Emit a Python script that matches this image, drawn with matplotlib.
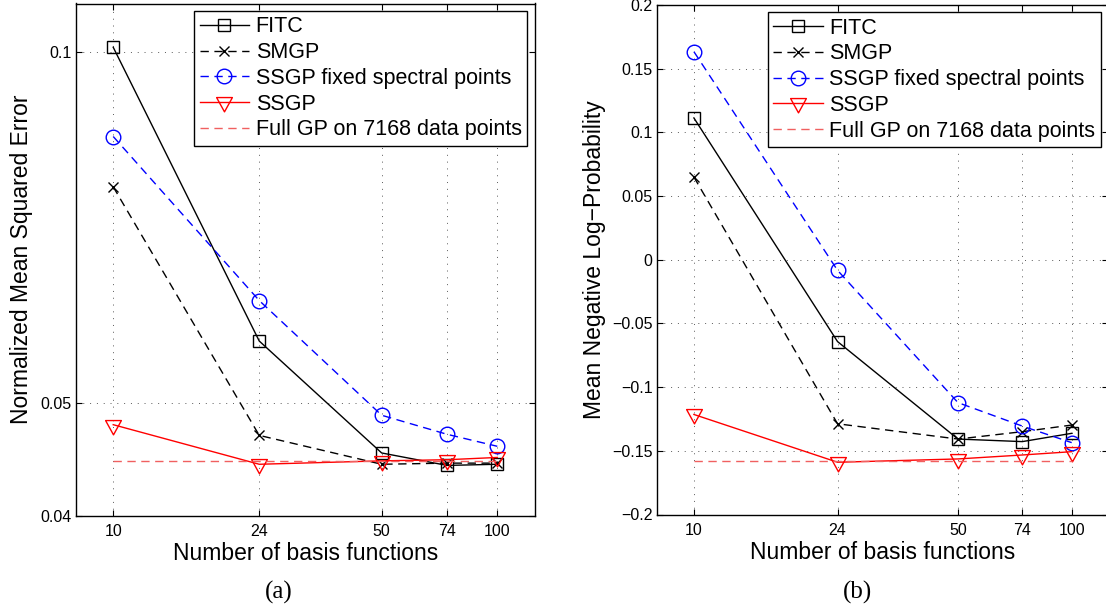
import numpy as np
import matplotlib.pyplot as plt
from matplotlib.path import Path
from matplotlib.ticker import FixedLocator, FixedFormatter, NullLocator

# numero de funcoes de base (eixo x dos dois paineis)
n_basis = [10, 24, 50, 74, 100]

# (a) erro quadratico medio normalizado
fitc_mse = [0.1009, 0.0565, 0.0453, 0.0442, 0.0443]
smgp_mse = [0.0766, 0.0469, 0.0443, 0.0444, 0.0444]
ssgp_fixed_mse = [0.0846, 0.0612, 0.0488, 0.0470, 0.0459]
ssgp_mse = [0.0479, 0.0443, 0.0446, 0.0447, 0.0449]
full_gp_mse = 0.0446

# (b) log-probabilidade negativa media
fitc_nlp = [0.1112, -0.0643, -0.1408, -0.1428, -0.1363]
smgp_nlp = [0.0648, -0.1288, -0.1408, -0.1350, -0.1298]
ssgp_fixed_nlp = [0.1632, -0.0084, -0.1122, -0.1306, -0.1436]
ssgp_nlp = [-0.1215, -0.1590, -0.1564, -0.1533, -0.1507]
full_gp_nlp = -0.158

labels = ['FITC', 'SMGP', 'SSGP fixed spectral points', 'SSGP',
          'Full GP on 7168 data points']
xticklabels = ['10', '24', '50', '74', '100']
yticks_a = [0.04, 0.05, 0.1]
yticklabels_a = ['0.04', '0.05', '0.1']
yticks_b = [-0.2, -0.15, -0.1, -0.05, 0, 0.05, 0.1, 0.15, 0.2]
yticklabels_b = ['\u22120.2', '\u22120.15', '\u22120.1', '\u22120.05', '0',
                 '0.05', '0.1', '0.15', '0.2']

plt.rcParams['font.family'] = ['Liberation Sans', 'DejaVu Sans']

# triangulo para baixo no estilo do MATLAB (centro no baricentro)
tri = Path([(-8, 5), (8, 5), (0, -9.5), (-8, 5)],
           [Path.MOVETO, Path.LINETO, Path.LINETO, Path.CLOSEPOLY])

W, H = 1106, 615
fig = plt.figure(figsize=(W / 100, H / 100), dpi=100)
ax1 = fig.add_axes([76 / W, (H - 516) / H, 458.5 / W, 512.5 / H])
ax2 = fig.add_axes([657.3 / W, (H - 514.5) / H, 451 / W, 509.7 / H])

dash = (0, (6, 4))


def draw(ax, fitc, smgp, fixed, ssgp, full):
    ax.plot(n_basis, fitc, color='k', lw=1, marker='s', ms=8.5, mfc='none',
            mew=1, label=labels[0])
    ax.plot(n_basis, smgp, color='k', lw=1, ls=dash, marker='x', ms=7,
            mew=1, label=labels[1])
    ax.plot(n_basis, fixed, color='b', lw=1, ls=dash, marker='o', ms=10.5,
            mfc='none', mew=1, label=labels[2])
    ax.plot(n_basis, ssgp, color='r', lw=1, marker=tri, ms=13.5, mfc='none',
            mew=1, label=labels[3])
    ax.plot([n_basis[0], n_basis[-1]], [full, full], color='#f06060', lw=1,
            ls=dash, label=labels[4])

    ax.set_xscale('log')
    ax.set_xlim(8, 125)
    ax.xaxis.set_major_locator(FixedLocator(n_basis))
    ax.xaxis.set_major_formatter(FixedFormatter(xticklabels))
    ax.xaxis.set_minor_locator(NullLocator())
    ax.tick_params(which='both', direction='in', top=True, right=True,
                   length=4, width=0.8, labelsize=11.5)
    ax.tick_params(axis='x', pad=6)
    ax.tick_params(axis='y', pad=3.5)
    ax.grid(True, color='0.35', lw=0.7, ls=(0, (1, 6)))
    for s in ax.spines.values():
        s.set_linewidth(1.0)
    ax.set_xlabel('Number of basis functions', fontsize=16.5, labelpad=2)
    leg = ax.legend(loc='upper right', fontsize=15.5, handlelength=2.3,
                    handletextpad=0.3, labelspacing=0.22, borderpad=0.25,
                    borderaxespad=0.35, fancybox=False, framealpha=1)
    leg.get_frame().set_edgecolor('k')
    leg.get_frame().set_linewidth(1.0)


draw(ax1, fitc_mse, smgp_mse, ssgp_fixed_mse, ssgp_mse, full_gp_mse)
ax1.set_yscale('log')
ax1.set_ylim(0.04, 0.11)
ax1.yaxis.set_major_locator(FixedLocator(yticks_a))
ax1.yaxis.set_major_formatter(FixedFormatter(yticklabels_a))
ax1.yaxis.set_minor_locator(NullLocator())
ax1.set_ylabel('Normalized Mean Squared Error', fontsize=16.5, labelpad=5)

draw(ax2, fitc_nlp, smgp_nlp, ssgp_fixed_nlp, ssgp_nlp, full_gp_nlp)
ax2.set_ylim(-0.2, 0.2)
ax2.yaxis.set_major_locator(FixedLocator(yticks_b))
ax2.yaxis.set_major_formatter(FixedFormatter(yticklabels_b))
ax2.set_ylabel('Mean Negative Log\u2212Probability', fontsize=16.5, labelpad=4)

# legendas (a) e (b) abaixo dos graficos
fig.text(279 / W, 1 - 592 / H, '(a)', ha='center', va='center', fontsize=18,
         family=['Liberation Serif', 'DejaVu Serif'])
fig.text(857 / W, 1 - 592 / H, '(b)', ha='center', va='center', fontsize=18,
         family=['Liberation Serif', 'DejaVu Serif'])

fig.savefig('out.png', dpi=100)
